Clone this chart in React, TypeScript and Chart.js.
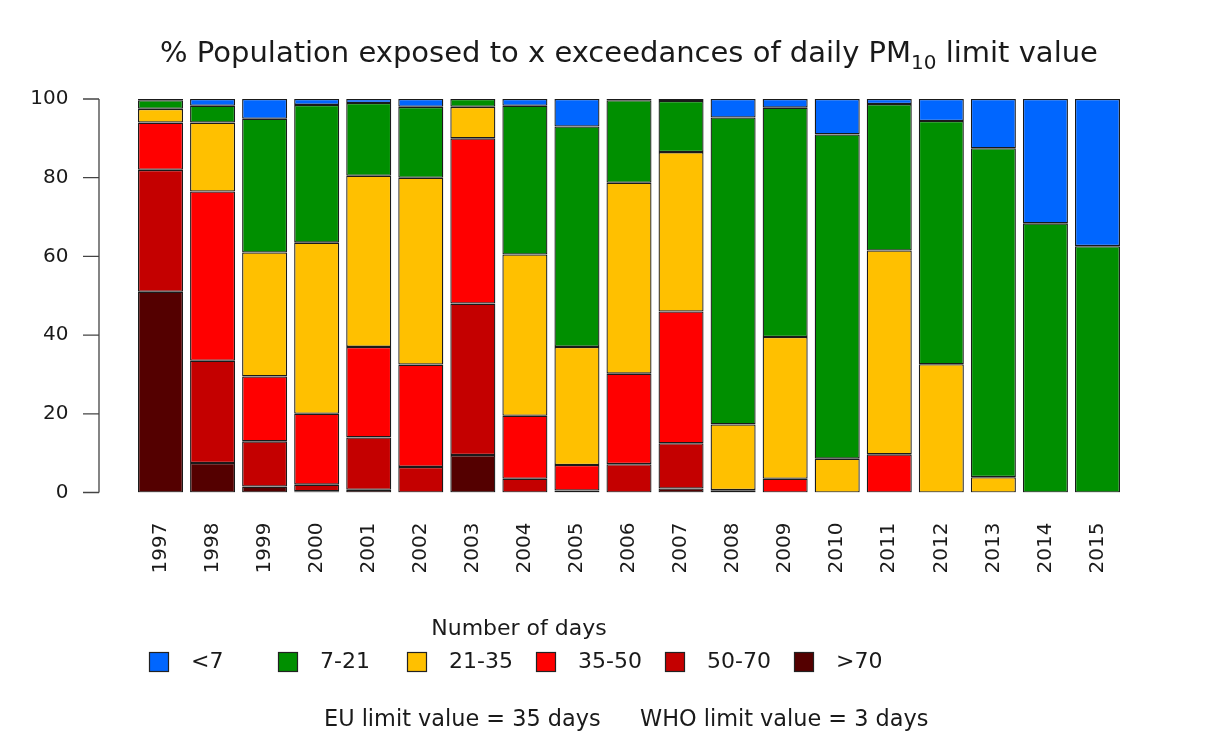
import { useEffect, useRef } from 'react';
import { Chart, registerables } from 'chart.js';

Chart.register(...registerables);

const years = ['1997', '1998', '1999', '2000', '2001', '2002', '2003', '2004', '2005', '2006', '2007', '2008', '2009', '2010', '2011', '2012', '2013', '2014', '2015'];

// stacked from bottom to top
const over70 = [51, 7.5, 1.5, 0.3, 0.7, 0, 9.5, 0, 0, 0, 1, 0, 0, 0, 0, 0, 0, 0, 0];
const d50to70 = [31, 26, 11.5, 1.7, 13.3, 6.5, 38.5, 3.5, 0.5, 7.2, 11.5, 0.4, 0, 0, 0, 0, 0, 0, 0];
const d35to50 = [12, 43, 16.5, 18, 23, 26, 42, 16, 6.5, 23, 33.5, 0.2, 3.5, 0, 9.7, 0, 0, 0, 0];
const d21to35 = [3.5, 17.5, 31.5, 43.5, 43.5, 47.5, 8, 41, 30, 48.5, 40.5, 16.7, 36, 8.6, 51.8, 32.6, 3.9, 0, 0];
const d7to21 = [2.2, 4.3, 34, 35, 18.5, 18, 2, 37.8, 56, 21, 13, 78, 58.3, 82.4, 37.2, 61.8, 83.6, 68.4, 62.6];
const under7 = [0.3, 1.7, 5, 1.5, 1, 2, 0, 1.7, 7, 0.3, 0.5, 4.7, 2.2, 9, 1.3, 5.6, 12.5, 31.6, 37.4];

const seriesLabels = ['>70', '50-70', '35-50', '21-35', '7-21', '<7'];
const seriesColors = ['#540000', '#C40000', '#FF0000', '#FFC000', '#008F00', '#0066FF'];
const seriesData = [over70, d50to70, d35to50, d21to35, d7to21, under7];

const yTickValues = [0, 20, 40, 60, 80, 100];

const titleMain = '% Population exposed to x exceedances of daily PM';
const titleSub = '10';
const titleEnd = ' limit value';
const legendTitle = 'Number of days';
const footerLeft = 'EU limit value = 35 days';
const footerRight = 'WHO limit value = 3 days';

const FONT = '"DejaVu Sans", sans-serif';
const TEXT = '#1a1a1a';

const decorPlugin = {
  id: 'decor',
  afterDraw(chart: any) {
    const ctx = chart.ctx as CanvasRenderingContext2D;
    ctx.save();
    // Title with subscript
    ctx.fillStyle = TEXT;
    ctx.textBaseline = 'alphabetic';
    ctx.textAlign = 'left';
    const big = `29px ${FONT}`;
    const small = `20px ${FONT}`;
    ctx.font = big;
    const w1 = ctx.measureText(titleMain).width;
    const w3 = ctx.measureText(titleEnd).width;
    ctx.font = small;
    const w2 = ctx.measureText(titleSub).width;
    const total = w1 + w2 + w3;
    let x = 629 - total / 2;
    const base = 62;
    ctx.font = big;
    ctx.fillText(titleMain, x, base);
    x += w1;
    ctx.font = small;
    ctx.fillText(titleSub, x, base + 7);
    x += w2;
    ctx.font = big;
    ctx.fillText(titleEnd, x, base);

    // y axis line and ticks (R style, detached from bars)
    const ys = chart.scales.y;
    ctx.strokeStyle = '#444';
    ctx.lineWidth = 1.3;
    ctx.beginPath();
    const yTop = ys.getPixelForValue(yTickValues[yTickValues.length - 1]);
    const yBot = ys.getPixelForValue(yTickValues[0]);
    ctx.moveTo(99, yTop);
    ctx.lineTo(99, yBot);
    for (const v of yTickValues) {
      const py = ys.getPixelForValue(v);
      ctx.moveTo(83, py);
      ctx.lineTo(99, py);
    }
    ctx.stroke();

    // Legend
    ctx.font = `22px ${FONT}`;
    ctx.fillStyle = TEXT;
    ctx.textBaseline = 'middle';
    ctx.textAlign = 'center';
    ctx.fillText(legendTitle, 519, 629);
    ctx.textAlign = 'left';
    for (let i = 0; i < seriesLabels.length; i++) {
      const idx = seriesLabels.length - 1 - i;
      const sx = 149 + i * 129;
      const sy = 662;
      ctx.fillStyle = seriesColors[idx];
      ctx.fillRect(sx, sy - 10, 20, 20);
      ctx.strokeStyle = '#222';
      ctx.lineWidth = 1.2;
      ctx.strokeRect(sx + 0.5, sy - 9.5, 19, 19);
      ctx.fillStyle = TEXT;
      ctx.fillText(seriesLabels[idx], sx + 42, sy);
    }
    // Footer
    ctx.font = `22.4px ${FONT}`;
    ctx.fillText(footerLeft, 324, 720);
    ctx.fillText(footerRight, 640, 720);
    ctx.restore();
  },
};

export default function App() {
  const ref = useRef<HTMLCanvasElement>(null);
  useEffect(() => {
    const chart = new Chart(ref.current!, {
      type: 'bar',
      data: {
        labels: years,
        datasets: seriesData.map((d, i) => ({
          label: seriesLabels[i],
          data: d,
          backgroundColor: seriesColors[i],
          borderColor: '#1a1a1a',
          borderWidth: 1.3,
          borderSkipped: false,
          barPercentage: 0.865,
          categoryPercentage: 1,
        })),
      },
      options: {
        responsive: false,
        animation: false,
        devicePixelRatio: 1,
        layout: { padding: { top: 99, right: 82.5, bottom: 0, left: 0 } },
        plugins: {
          legend: { display: false },
          title: { display: false },
          tooltip: { enabled: false },
        },
        scales: {
          x: {
            stacked: true,
            grid: { display: false, drawTicks: false },
            border: { display: false },
            ticks: {
              autoSkip: false,
              minRotation: 90,
              maxRotation: 90,
              padding: 30,
              color: TEXT,
              font: { family: FONT, size: 20 },
            },
            afterFit: (s: any) => {
              s.height = 247.5;
            },
          },
          y: {
            stacked: true,
            min: 0,
            max: 100,
            grid: { display: false, drawTicks: false },
            border: { display: false },
            ticks: {
              stepSize: 20,
              padding: 66,
              color: TEXT,
              font: { family: FONT, size: 20 },
            },
            afterFit: (s: any) => {
              s.width = 134.5;
            },
          },
        },
      },
      plugins: [decorPlugin],
    } as any);
    return () => chart.destroy();
  }, []);
  return (
    <div style={{ position: 'fixed', left: 0, top: 0, width: 1206, height: 740, background: '#fff' }}>
      <canvas ref={ref} width={1206} height={740} style={{ display: 'block' }} />
    </div>
  );
}
